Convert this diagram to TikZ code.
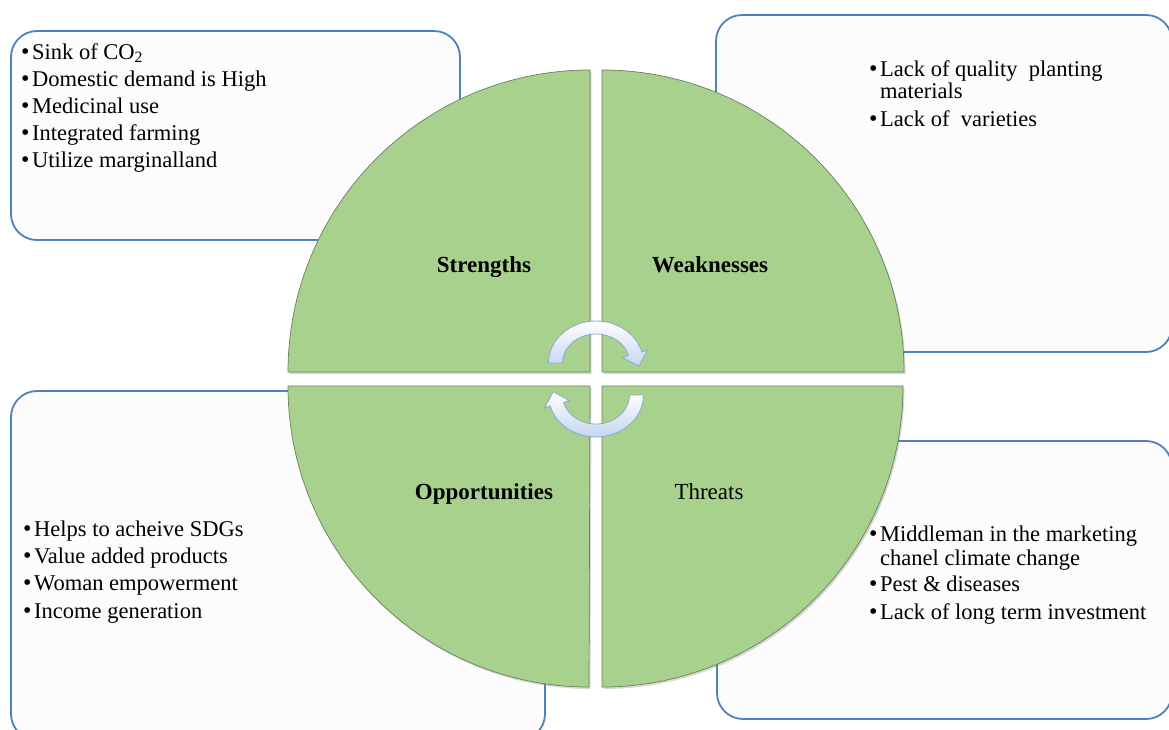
\documentclass[tikz,border=0pt]{standalone}
\usepackage{fontspec}
\setmainfont{Liberation Serif}
\usetikzlibrary{shadows}
\definecolor{quadgreen}{HTML}{A9D18E}
\definecolor{quadedge}{HTML}{6B7F5E}
\definecolor{boxblue}{HTML}{4F81BD}
\definecolor{boxfill}{HTML}{FCFCFC}
\definecolor{arrowedge}{HTML}{8EA6CC}
\definecolor{arrowblue}{HTML}{C5D6EF}
\newcommand\bul{\makebox[11pt][l]{\raisebox{-0.5pt}{\fontsize{24}{24}\selectfont\textbullet}}}
\tikzset{
  infobox/.style={draw=boxblue, line width=1.8pt, fill=boxfill, rounded corners=26pt},
  quad/.style={fill=quadgreen, draw=quadedge, line width=0.7pt,
    drop shadow={shadow xshift=1.5pt, shadow yshift=-2pt, opacity=0.3}},
  qlabel/.style={font=\fontsize{23}{26}\selectfont\bfseries, inner sep=0, anchor=base},
  item/.style={font=\fontsize{22.5}{27}\selectfont, inner sep=0, anchor=base west},
  cyc/.style={draw=arrowedge, line width=0.8pt, top color=white, bottom color=arrowblue},
}
\begin{document}
\begin{tikzpicture}[x=1pt, y=-1pt]
\useasboundingbox (0,0) rectangle (1169,729);
\clip (0,0) rectangle (1169,729);
\fill[white] (0,0) rectangle (1169,729);

% info boxes
\draw[infobox] (11,31) rectangle (460,240);
\draw[infobox] (716,15) rectangle (1172,352);
\draw[infobox] (11,391) rectangle (545,740);
\draw[infobox] (717,441) rectangle (1172,719);

% quadrants
\path[quad] (590,372) -- (288,372) arc[start angle=180, end angle=270, radius=302] -- cycle;
\path[quad] (602,372) -- (602,70) arc[start angle=270, end angle=360, radius=302] -- cycle;
\path[quad] (590,386) -- (288,386) arc[start angle=180, end angle=90, radius=301] -- cycle;
\path[quad] (602,386) -- (903,386) arc[start angle=0, end angle=90, radius=301] -- cycle;

% quadrant labels
\node[qlabel] (S) at (484,272) {Strengths};
\node[qlabel] (W) at (710,272) {Weaknesses};
\node[qlabel] (O) at (484,499) {Opportunities};
\node[qlabel, font=\fontsize{23}{26}\selectfont] (T) at (709,499) {Threats};

% cycle arrows
\path[cyc] (548.5,363) arc[start angle=180, end angle=345, x radius=47.5, y radius=42]
  -- (647.5,350) -- (638.9,366.2) -- (622.7,357.6) -- (628.4,355.5)
  arc[start angle=345, end angle=180, x radius=33.5, y radius=29] -- cycle;
\begin{scope}[rotate around={180:(596,379)}]
\path[cyc] (548.5,363) arc[start angle=180, end angle=345, x radius=47.5, y radius=42]
  -- (647.5,350) -- (638.9,366.2) -- (622.7,357.6) -- (628.4,355.5)
  arc[start angle=345, end angle=180, x radius=33.5, y radius=29] -- cycle;
\end{scope}

% strengths list
\node[item] (s1) at (21,59)  {\bul Sink of CO\textsubscript{2}};
\node[item] (s2) at (21,86)  {\bul Domestic demand is High};
\node[item] (s3) at (21,113) {\bul Medicinal use};
\node[item] (s4) at (21,140) {\bul Integrated farming};
\node[item] (s5) at (21,167) {\bul Utilize marginalland};

% weaknesses list
\node[item] (w1) at (869,76)  {\bul Lack of quality\ \ planting};
\node[item] (w2) at (880,98)  {materials};
\node[item] (w3) at (869,126) {\bul Lack of\ \ varieties};

% opportunities list
\node[item] (o1) at (23,536) {\bul Helps to acheive SDGs};
\node[item] (o2) at (23,563) {\bul Value added products};
\node[item] (o3) at (23,590) {\bul Woman empowerment};
\node[item] (o4) at (23,618) {\bul Income generation};

% threats list
\node[item] (t1) at (869,541) {\bul Middleman in the marketing};
\node[item] (t2) at (880,565) {chanel climate change};
\node[item] (t3) at (869,591) {\bul Pest \& diseases};
\node[item] (t4) at (869,619) {\bul Lack of long term investment};
\end{tikzpicture}
\end{document}
